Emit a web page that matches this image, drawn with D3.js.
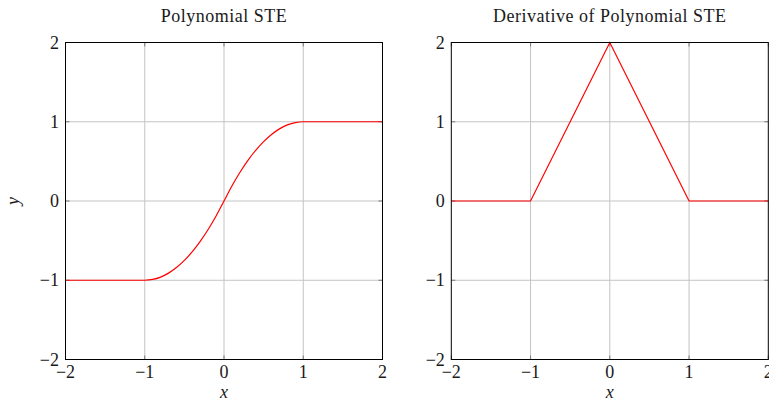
<!DOCTYPE html>
<html>
<head>
<meta charset="utf-8">
<script src="https://cdn.jsdelivr.net/npm/d3@7"></script>
<style>
  html, body { margin: 0; padding: 0; background: #fff; }
  svg text { font-family: "Liberation Serif", "DejaVu Serif", serif; fill: #1a1a1a; }
</style>
</head>
<body>
<svg id="chart" width="769" height="403"></svg>
<script>
// Polynomial straight-through estimator and its derivative
const steX = [-2, -1, -0.9, -0.8, -0.7, -0.6, -0.5, -0.4, -0.3, -0.2, -0.1, 0,
              0.1, 0.2, 0.3, 0.4, 0.5, 0.6, 0.7, 0.8, 0.9, 1, 2];
const steY = [-1, -1, -0.99, -0.96, -0.91, -0.84, -0.75, -0.64, -0.51, -0.36, -0.19, 0,
              0.19, 0.36, 0.51, 0.64, 0.75, 0.84, 0.91, 0.96, 0.99, 1, 1];
const derivX = [-2, -1, 0, 1, 2];
const derivY = [0, 0, 2, 0, 0];
const tickValues = [-2, -1, 0, 1, 2];
const titles = ["Polynomial STE", "Derivative of Polynomial STE"];

const svg = d3.select("#chart");
const fmt = d => (d < 0 ? "\u2212" + Math.abs(d) : String(d));
const fs = 18;

const panels = [
  { left: 65.5, title: titles[0], xs: steX, ys: steY, curve: d3.curveMonotoneX, ylabel: true },
  { left: 451.3, title: titles[1], xs: derivX, ys: derivY, curve: d3.curveLinear, ylabel: false }
];
const plotW = 317, plotTop = 42.5, plotH = 317;

panels.forEach(p => {
  const x = d3.scaleLinear().domain([-2, 2]).range([p.left, p.left + plotW]);
  const y = d3.scaleLinear().domain([-2, 2]).range([plotTop + plotH, plotTop]);
  const g = svg.append("g");

  // grid
  g.selectAll(".gx").data(tickValues.slice(1, -1)).join("line")
    .attr("x1", d => x(d)).attr("x2", d => x(d))
    .attr("y1", plotTop).attr("y2", plotTop + plotH)
    .attr("stroke", "#c4c4c4").attr("stroke-width", 1);
  g.selectAll(".gy").data(tickValues.slice(1, -1)).join("line")
    .attr("y1", d => y(d)).attr("y2", d => y(d))
    .attr("x1", p.left).attr("x2", p.left + plotW)
    .attr("stroke", "#c4c4c4").attr("stroke-width", 1);

  // inner tick marks on all four sides
  const tl = 4;
  tickValues.forEach(v => {
    g.append("line").attr("x1", x(v)).attr("x2", x(v)).attr("y1", plotTop + plotH).attr("y2", plotTop + plotH - tl)
      .attr("stroke", "#7a7a7a");
    g.append("line").attr("x1", x(v)).attr("x2", x(v)).attr("y1", plotTop).attr("y2", plotTop + tl)
      .attr("stroke", "#7a7a7a");
    g.append("line").attr("y1", y(v)).attr("y2", y(v)).attr("x1", p.left).attr("x2", p.left + tl)
      .attr("stroke", "#7a7a7a");
    g.append("line").attr("y1", y(v)).attr("y2", y(v)).attr("x1", p.left + plotW).attr("x2", p.left + plotW - tl)
      .attr("stroke", "#7a7a7a");
  });

  // curve
  const pts = p.xs.map((v, i) => [v, p.ys[i]]);
  g.append("path").datum(pts)
    .attr("d", d3.line().x(d => x(d[0])).y(d => y(d[1])).curve(p.curve))
    .attr("fill", "none").attr("stroke", "#ff0000").attr("stroke-width", 1.2);

  // frame
  g.append("rect").attr("x", p.left).attr("y", plotTop).attr("width", plotW).attr("height", plotH)
    .attr("fill", "none").attr("stroke", "#000").attr("stroke-width", 1);

  // tick labels
  g.selectAll(".xl").data(tickValues).join("text")
    .attr("x", d => x(d)).attr("y", 377.5).attr("text-anchor", "middle")
    .attr("font-size", fs).text(fmt);
  g.selectAll(".yl").data(tickValues).join("text")
    .attr("x", p.left - 6.5).attr("y", d => y(d) + 6).attr("text-anchor", "end")
    .attr("font-size", fs).text(fmt);

  // axis labels
  g.append("text").attr("x", x(0)).attr("y", 397.5).attr("text-anchor", "middle")
    .attr("font-size", fs).attr("font-style", "italic").text("x");
  if (p.ylabel) {
    g.append("text").attr("transform", `translate(19,${y(0)}) rotate(-90)`)
      .attr("text-anchor", "middle").attr("font-size", fs).attr("font-style", "italic").text("y");
  }

  // title
  g.append("text").attr("x", x(0)).attr("y", 21.5).attr("text-anchor", "middle")
    .attr("font-size", fs).attr("letter-spacing", 0.5).text(p.title);
});
</script>
</body>
</html>
